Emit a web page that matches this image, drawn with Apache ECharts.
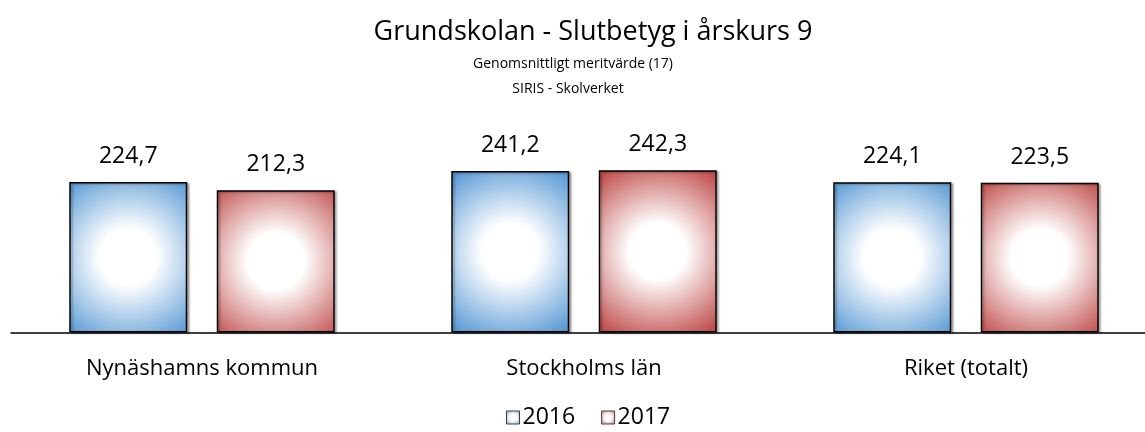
<!DOCTYPE html>
<html>
<head>
<meta charset="utf-8">
<script src="https://cdn.jsdelivr.net/npm/echarts@6/dist/echarts.min.js"></script>
<style>
  html, body { margin: 0; padding: 0; background: #fff; }
  #chart { width: 1145px; height: 432px; }
</style>
</head>
<body>
<div id="chart"></div>
<script>
var categories = ['Nynäshamns kommun', 'Stockholms län', 'Riket (totalt)'];
var years = ['2016', '2017'];
var values2016 = [224.7, 241.2, 224.1];
var values2017 = [212.3, 242.3, 223.5];

var FONT = 'Open Sans';

function glow(edge) {
  return {
    type: 'radial', x: 0.5, y: 0.5, r: 0.8,
    colorStops: [
      { offset: 0, color: '#ffffff' },
      { offset: 0.3, color: '#ffffff' },
      { offset: 1, color: edge }
    ]
  };
}

function fmt(p) {
  return p.value.toFixed(1).replace('.', ',');
}

var chart = echarts.init(document.getElementById('chart'));

function barSeries(name, data, edge) {
  return {
    name: name,
    type: 'bar',
    data: data,
    barWidth: 118,
    barGap: '25%',
    itemStyle: {
      color: glow(edge),
      borderColor: '#000',
      borderWidth: 1.5,
      shadowColor: 'rgba(0,0,0,0.3)',
      shadowBlur: 2,
      shadowOffsetX: 2,
      shadowOffsetY: 1
    },
    label: {
      show: true,
      position: 'top',
      distance: 14,
      formatter: fmt,
      fontFamily: FONT,
      fontSize: 23,
      color: '#000'
    }
  };
}

var option = {
  animation: false,
  title: [
    { text: 'Grundskolan - Slutbetyg i årskurs 9', left: 588, top: 14, textAlign: 'center',
      textStyle: { fontFamily: FONT, fontSize: 27, fontWeight: 'normal', color: '#000' } },
    { text: 'Genomsnittligt meritvärde (17)', left: 568, top: 52, textAlign: 'center',
      textStyle: { fontFamily: FONT, fontSize: 14, fontWeight: 'normal', color: '#000' } },
    { text: 'SIRIS - Skolverket', left: 563, top: 77, textAlign: 'center',
      textStyle: { fontFamily: FONT, fontSize: 14, fontWeight: 'normal', color: '#000' } }
  ],
  legend: {
    data: years,
    top: 406,
    left: 506,
    padding: 0,
    itemWidth: 13,
    itemHeight: 13,
    itemGap: 26,
    icon: 'rect',
    itemStyle: { borderColor: '#404040', borderWidth: 1 },
    textStyle: { fontFamily: FONT, fontSize: 23, color: '#000', padding: [0, 0, 0, -2] }
  },
  // the plot runs past the right edge of the page, so let it
  grid: { left: 11, top: 165, right: -12, height: 167.5, outerBoundsMode: 'none' },
  xAxis: {
    type: 'category',
    data: categories,
    axisLine: { lineStyle: { color: '#000', width: 1.5 } },
    axisTick: { show: false },
    axisLabel: { margin: 25, fontFamily: FONT, fontSize: 22, color: '#000' }
  },
  yAxis: {
    type: 'value',
    min: 0,
    max: 250,
    show: false,
    splitLine: { show: false }
  },
  series: [
    barSeries('2016', values2016, '#5b9bd5'),
    barSeries('2017', values2017, '#c0504d')
  ]
};

chart.setOption(option);
</script>
</body>
</html>
